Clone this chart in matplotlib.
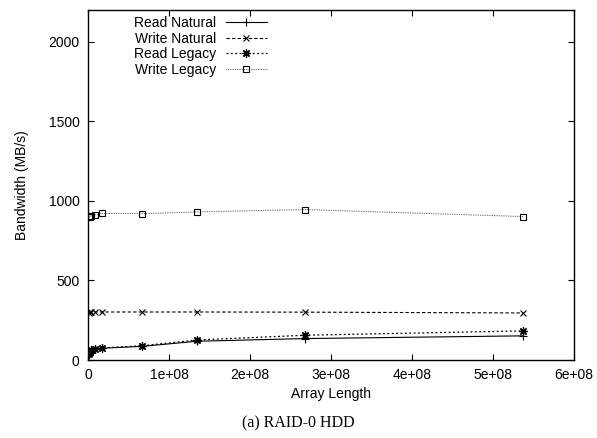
import matplotlib.pyplot as plt

# array lengths (powers of two) and measured bandwidth in MB/s
array_length = [2**20, 2**21, 2**22, 2**23, 2**24, 2**26, 2**27, 2**28, 2**29]
read_natural = [30, 45, 58, 67, 74, 86, 118, 135, 152]
write_natural = [298, 300, 301, 302, 302, 302, 302, 301, 296]
read_legacy = [35, 50, 62, 70, 76, 90, 126, 156, 183]
write_legacy = [898, 902, 906, 911, 922, 920, 931, 946, 902]

labels = ["Read Natural", "Write Natural", "Read Legacy", "Write Legacy"]
xticks = [0, 1e8, 2e8, 3e8, 4e8, 5e8, 6e8]
xticklabels = ["0", "1e+08", "2e+08", "3e+08", "4e+08", "5e+08", "6e+08"]
yticks = [0, 500, 1000, 1500, 2000]

plt.rcParams['font.family'] = ['Liberation Sans', 'DejaVu Sans']

fig = plt.figure(figsize=(5.97, 4.38), dpi=100)
ax = fig.add_axes([0.1474, 0.178, 0.814, 0.799])

star = (8, 2, 0)
ax.plot(array_length, read_natural, color='black', lw=0.8, ls='-',
        marker='+', ms=6, mew=0.8, label=labels[0])
ax.plot(array_length, write_natural, color='black', lw=0.8, ls=(0, (3, 2)),
        marker='x', ms=5, mew=0.8, label=labels[1])
ax.plot(array_length, read_legacy, color='black', lw=0.9, ls=(0, (1.5, 2)),
        marker=star, ms=6, mew=0.9, label=labels[2])
ax.plot(array_length, write_legacy, color='#444444', lw=0.7, ls=(0, (0.8, 1)),
        marker='s', ms=5, mfc='none', mec='black', mew=0.8, label=labels[3])

ax.set_xlim(0, 6e8)
ax.set_ylim(0, 2200)
ax.set_xticks(xticks)
ax.set_xticklabels(xticklabels)
ax.set_yticks(yticks)
ax.tick_params(direction='in', top=True, right=True, length=4, width=0.8,
               labelsize=10, pad=6)
for s in ax.spines.values():
    s.set_linewidth(1.0)

ax.set_xlabel("Array Length", fontsize=10, labelpad=3)
ax.set_ylabel("Bandwidth (MB/s)", fontsize=10, labelpad=14)

ax.legend(loc='upper left', bbox_to_anchor=(0.074, 1.011), frameon=False,
          markerfirst=False, fontsize=10, handlelength=2.95, labelspacing=0.12,
          handletextpad=0.7, borderpad=0.2)

fig.text(0.5, 0.033, "(a) RAID-0 HDD", ha='center', va='center',
         fontsize=11.5, family=['Liberation Serif', 'DejaVu Serif'])

fig.savefig("out.png", dpi=100)
